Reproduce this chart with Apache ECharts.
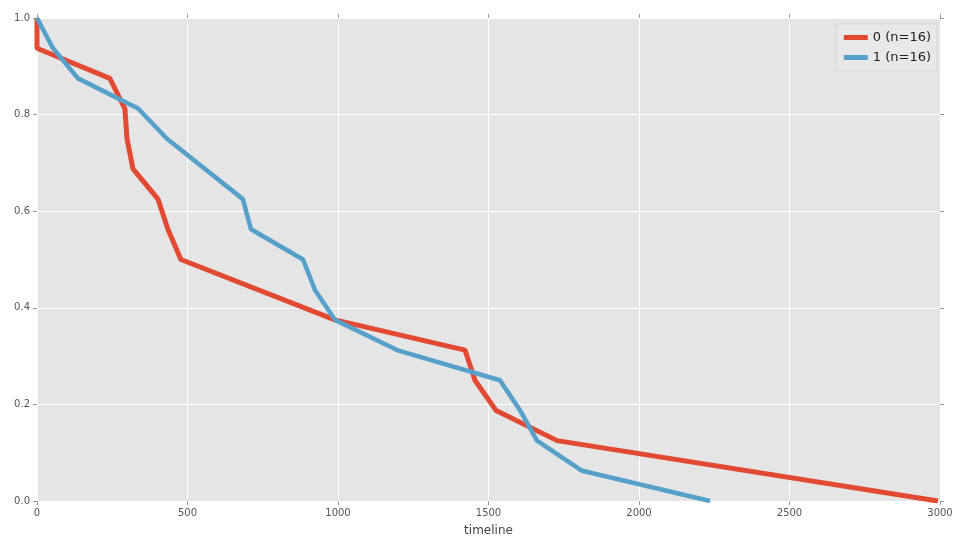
<!DOCTYPE html>
<html>
<head>
<meta charset="utf-8">
<script src="https://cdn.jsdelivr.net/npm/echarts@6/dist/echarts.min.js"></script>
<style>html,body{margin:0;padding:0;background:#fff;}#c{width:956px;height:540px;}</style>
</head>
<body>
<div id="c"></div>
<script>
// Group 0 (n=16): timeline / survival
const group0Time = [0, 0, 242, 292, 299, 319, 402, 435, 478, 990, 1422, 1455, 1525, 1728, 2993];
const group0Surv = [1.0, 0.9375, 0.875, 0.8125, 0.75, 0.6875, 0.625, 0.5625, 0.5, 0.375, 0.3125, 0.25, 0.1875, 0.125, 0.0];
// Group 1 (n=16)
const group1Time = [0, 53, 136, 336, 432, 684, 711, 884, 923, 990, 1196, 1538, 1605, 1661, 1811, 2236];
const group1Surv = [1.0, 0.9375, 0.875, 0.8125, 0.75, 0.625, 0.5625, 0.5, 0.4375, 0.375, 0.3125, 0.25, 0.1875, 0.125, 0.0625, 0.0];
const seriesNames = ['0 (n=16)', '1 (n=16)'];
const xTicks = [0, 500, 1000, 1500, 2000, 2500, 3000];
const yTicks = [0.0, 0.2, 0.4, 0.6, 0.8, 1.0];

const pair = (xs, ys) => xs.map((x, i) => [x, ys[i]]);
const chart = echarts.init(document.getElementById('c'));
const font = 'DejaVu Sans';
const tickLine = { show: true, length: 4, inside: false, lineStyle: { color: '#999' } };
const baseX = {
  type: 'value', min: xTicks[0], max: xTicks[xTicks.length - 1], interval: 500,
  axisLine: { show: false, onZero: false }, axisTick: tickLine
};
const baseY = {
  type: 'value', min: yTicks[0], max: yTicks[yTicks.length - 1], interval: 0.2,
  axisLine: { show: false, onZero: false }, axisTick: tickLine
};
chart.setOption({
  backgroundColor: '#fff',
  animation: false,
  textStyle: { fontFamily: font },
  grid: { left: 37, right: 16, top: 18, bottom: 39, show: true, backgroundColor: '#E5E5E5', borderWidth: 0,
          containLabel: false, outerBoundsMode: 'none' },
  legend: {
    right: 19, top: 24, orient: 'vertical',
    data: seriesNames.map(n => ({ name: n, icon: 'rect' })),
    itemWidth: 24, itemHeight: 5, itemGap: 7,
    backgroundColor: 'rgba(232,232,232,0.9)', borderColor: '#d8d8d8', borderWidth: 1,
    padding: [7, 6, 7, 7],
    textStyle: { fontFamily: font, fontSize: 13, color: '#222' }
  },
  xAxis: [
    Object.assign({}, baseX, {
      position: 'bottom',
      name: 'timeline', nameLocation: 'middle', nameGap: 24,
      nameTextStyle: { fontFamily: font, fontSize: 12, color: '#444' },
      axisLabel: { fontFamily: font, fontSize: 10, color: '#555', margin: 7, formatter: v => String(v) },
      splitLine: { show: true, lineStyle: { color: '#fff', width: 1 } }
    }),
    Object.assign({}, baseX, { position: 'top', axisLabel: { show: false }, splitLine: { show: false } })
  ],
  yAxis: [
    Object.assign({}, baseY, {
      position: 'left',
      axisLabel: { fontFamily: font, fontSize: 10, color: '#555', margin: 7, formatter: v => v.toFixed(1) },
      splitLine: { show: true, lineStyle: { color: '#fff', width: 1 } }
    }),
    Object.assign({}, baseY, { position: 'right', axisLabel: { show: false }, splitLine: { show: false } })
  ],
  series: [
    {
      name: seriesNames[0], type: 'line', data: pair(group0Time, group0Surv),
      showSymbol: false, symbol: 'none', smooth: false,
      itemStyle: { color: '#E24A33' },
      lineStyle: { color: '#E24A33', width: 5 }
    },
    {
      name: seriesNames[1], type: 'line', data: pair(group1Time, group1Surv),
      showSymbol: false, symbol: 'none', smooth: false,
      itemStyle: { color: '#56A0CA' },
      lineStyle: { color: '#56A0CA', width: 4.5 }
    }
  ]
});
</script>
</body>
</html>
